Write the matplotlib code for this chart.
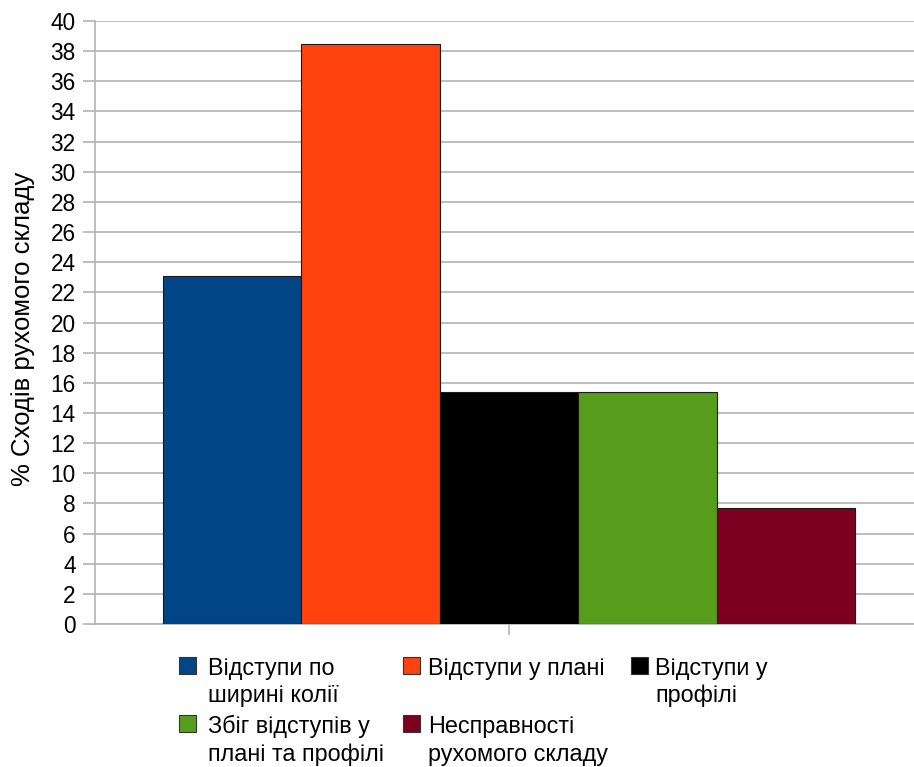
import matplotlib
matplotlib.use("Agg")
import matplotlib.pyplot as plt
from matplotlib.patches import Rectangle

plt.rcParams['font.family'] = ['Liberation Sans', 'DejaVu Sans']

# Data
series_labels = ["Відступи по\nширині колії", "Відступи у плані", "Відступи у\nпрофілі",
                 "Збіг відступів у\nплані та профілі", "Несправності\nрухомого складу"]
values = [23.08, 38.46, 15.38, 15.38, 7.69]
colors = ["#004586", "#ff420e", "#000000", "#579d1c", "#7e0021"]
y_ticks = list(range(0, 41, 2))
y_label = "% Сходів рухомого складу"

W, H = 914, 767
fig = plt.figure(figsize=(W / 100, H / 100), dpi=100)
ax = fig.add_axes([95 / W, (H - 624) / H, (923 - 95) / W, (624 - 21) / H])

n = len(values)
group = 0.836
bw = group / n
for i, (v, c) in enumerate(zip(values, colors)):
    x = -group / 2 + bw * (i + 0.5)
    ax.bar(x, v, width=bw, color=c, edgecolor="#1a1a1a", linewidth=0.8, zorder=3)

ax.set_xlim(-0.5, 0.5)
ax.set_ylim(0, 40)
ax.set_yticks(y_ticks)
ax.set_yticklabels([str(t) for t in y_ticks])
ax.set_xticks([0])
ax.set_xticklabels([""])
grid_c = "#b3b3b3"
ax.yaxis.grid(True, color=grid_c, linewidth=1.2, zorder=0)
ax.set_axisbelow(True)
for s in ["top", "right"]:
    ax.spines[s].set_visible(False)
for s in ["left", "bottom"]:
    ax.spines[s].set_color(grid_c)
    ax.spines[s].set_linewidth(1.2)
ax.tick_params(axis="y", direction="out", length=9, width=1.2, color=grid_c, pad=5, labelsize=16.3)
ax.tick_params(axis="x", direction="out", length=8, width=1.2, color=grid_c)
fig.text(23 / W, (H - 329) / H, y_label, fontsize=18.5, rotation=90,
         ha="center", va="center")

# Legend (row-wise, 3 columns)
col_marker_x = [179, 403, 631]
col_text_x = [208, 428, 655]
row_base_y = [674.5, 733]
line_step = 27.8
msize = 16.8
for i, (lab, c) in enumerate(zip(series_labels, colors)):
    r, col = divmod(i, 3)
    mx = col_marker_x[col]
    my = row_base_y[r]
    fig.add_artist(Rectangle((mx / W, (H - my + 1) / H), msize / W, msize / H,
                             transform=fig.transFigure, facecolor=c,
                             edgecolor="#333333", linewidth=0.8))
    for k, line in enumerate(lab.split("\n")):
        fig.text(col_text_x[col] / W, (H - my - k * line_step) / H, line,
                 fontsize=16.8, va="baseline", ha="left")

fig.savefig("out.png", dpi=100)
